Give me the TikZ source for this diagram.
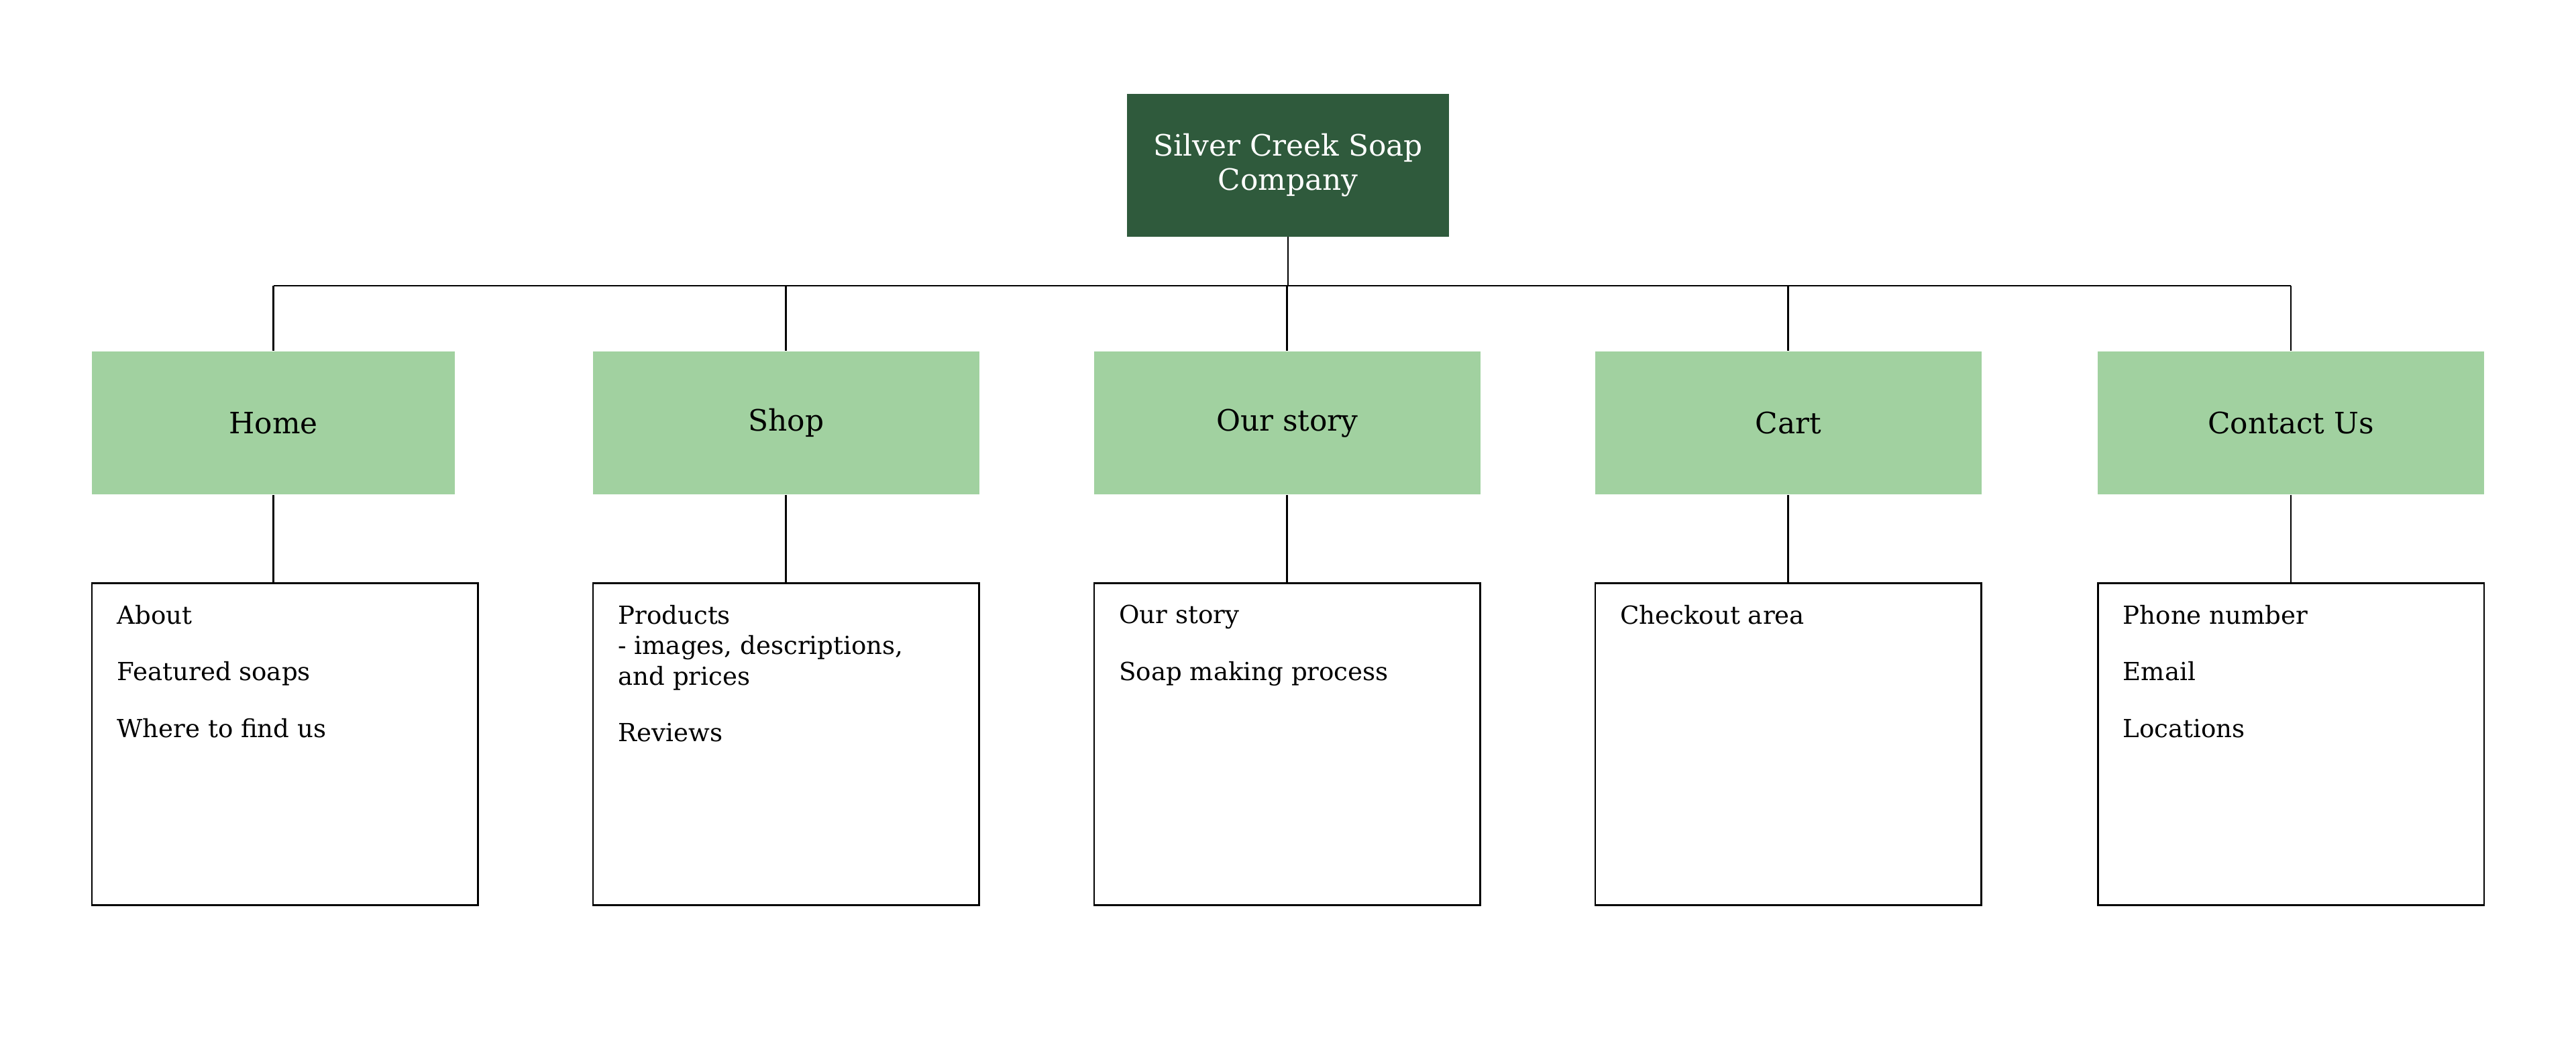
\documentclass[tikz,border=0pt]{standalone}
\usepackage{fontspec}
\setmainfont{DejaVu Serif}
\usetikzlibrary{positioning}
\definecolor{darkgreen}{HTML}{2F5A3C}
\definecolor{lightgreen}{HTML}{A1D1A0}
\begin{document}
\begin{tikzpicture}[x=0.0255cm,y=-0.0255cm,
    top/.style={fill=darkgreen,text=white,minimum width=196*0.0255cm,minimum height=87*0.0255cm,align=center,font=\fontsize{13}{15}\selectfont,inner sep=0pt},
    page/.style={fill=lightgreen,minimum width=235*0.0255cm,minimum height=87*0.0255cm,font=\fontsize{13}{15}\selectfont,inner sep=0pt},
    sub/.style={draw=black,thick,minimum width=235*0.0255cm,minimum height=196*0.0255cm,inner sep=0pt},
    item/.style={anchor=north west,align=left,font=\fontsize{11}{13.5}\selectfont,inner sep=0pt},
    link/.style={draw=black,thick}]
\useasboundingbox (0,0) rectangle (1568,636);
            \node[top] (1) at (784,100.5) {Silver Creek Soap\\Company};
            \node[page,minimum width=221*0.0255cm] (home) at (166.5,257.5) {Home};
            \node[page] (shop) at (478.5,257.5) {Shop};
            \node[page] (story) at (783.5,257.5) {Our story};
            \node[page] (cart) at (1088.5,257.5) {Cart};
            \node[page] (contact) at (1394.5,257.5) {Contact Us};

            \node[sub] (homeb) at (173.5,453) {};
            \node[sub] (shopb) at (478.5,453) {};
            \node[sub] (storyb) at (783.5,453) {};
            \node[sub] (cartb) at (1088.5,453) {};
            \node[sub] (contactb) at (1394.5,453) {};

            \node[item] at (71,368) {About\\[1.05em]Featured soaps\\[1.05em]Where to find us};
            \node[item] at (376,368) {Products\\- images, descriptions,\\and prices\\[1.05em]Reviews};
            \node[item] at (681,368) {Our story\\[1.05em]Soap making process};
            \node[item] at (986,368) {Checkout area};
            \node[item] at (1292,368) {Phone number\\[1.05em]Email\\[1.05em]Locations};

            \coordinate (bus) at (784,174);
            \path [link] (1.south) -- (bus);
            \path [link] (home.north |- bus) -- (contact.north |- bus);
            \foreach \n in {home,shop,story,cart,contact} {
                \path [link] (\n.north |- bus) -- (\n.north);
                \path [link] (\n.south) -- (\n.south |- \n b.north);
            }
        \end{tikzpicture}
\end{document}
